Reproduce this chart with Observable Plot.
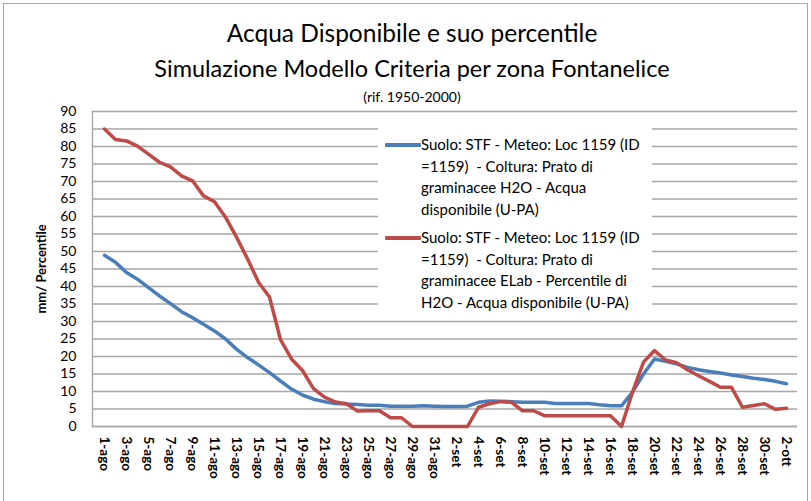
<!DOCTYPE html>
<html><head><meta charset="utf-8">
<script src="https://cdn.jsdelivr.net/npm/d3@7"></script>
<script src="https://cdn.jsdelivr.net/npm/@observablehq/plot@0.6"></script>
<style>
body{margin:0;background:#fff;font-family:Lato,"Open Sans",sans-serif;color:#000;}
#wrap{position:relative;width:811px;height:501px;overflow:hidden;background:#fff;}
#border{position:absolute;left:3px;top:3px;width:805px;height:520px;border:1.5px solid #a6a6a6;box-sizing:border-box;pointer-events:none;}
#head{position:relative;height:100px;}
.tl{position:absolute;left:0;width:824px;text-align:center;white-space:nowrap;}
#t1{top:18px;font-size:24.5px;line-height:30px;}
#t2{top:53px;font-size:23.5px;line-height:30px;}
#t3{top:89px;font-size:14px;line-height:16px;}
#legend{position:absolute;left:378px;top:121px;width:274px;height:195px;background:#fff;}
.entry{position:absolute;left:0;}
.swatch{position:absolute;left:7px;width:36px;height:4px;border-radius:1px;}
.ltxt{position:absolute;left:43px;font-size:15px;line-height:21.7px;white-space:pre;}
#chart svg text{fill:#000;}
</style>
</head><body>
<div id="wrap">
  <div id="head">
    <div class="tl" id="t1">Acqua Disponibile e suo percentile</div>
    <div class="tl" id="t2">Simulazione Modello Criteria per zona Fontanelice</div>
    <div class="tl" id="t3">(rif. 1950-2000)</div>
  </div>
  <div id="chart"></div>
  <div id="legend"></div>
  <div id="border"></div>
</div>
<script>
const days = ["1-ago","2-ago","3-ago","4-ago","5-ago","6-ago","7-ago","8-ago","9-ago","10-ago",
"11-ago","12-ago","13-ago","14-ago","15-ago","16-ago","17-ago","18-ago","19-ago","20-ago",
"21-ago","22-ago","23-ago","24-ago","25-ago","26-ago","27-ago","28-ago","29-ago","30-ago","31-ago",
"1-set","2-set","3-set","4-set","5-set","6-set","7-set","8-set","9-set","10-set",
"11-set","12-set","13-set","14-set","15-set","16-set","17-set","18-set","19-set","20-set",
"21-set","22-set","23-set","24-set","25-set","26-set","27-set","28-set","29-set","30-set",
"1-ott","2-ott"];
const xTickLabels = ["1-ago","3-ago","5-ago","7-ago","9-ago","11-ago","13-ago","15-ago","17-ago","19-ago",
"21-ago","23-ago","25-ago","27-ago","29-ago","31-ago","2-set","4-set","6-set","8-set","10-set",
"12-set","14-set","16-set","18-set","20-set","22-set","24-set","26-set","28-set","30-set","2-ott"];
const yTicks = [0,5,10,15,20,25,30,35,40,45,50,55,60,65,70,75,80,85,90];
const acquaDisponibile = [48.9,46.9,44,42.1,39.7,37.3,35.1,32.8,31.1,29.2,27.3,25,22.1,19.7,17.6,15.4,13,10.7,9,7.8,
7.1,6.6,6.4,6.3,6.1,6.1,5.8,5.8,5.8,5.9,5.8,5.7,5.7,5.8,6.9,7.3,7.2,7.1,6.9,6.9,
6.9,6.6,6.6,6.6,6.6,6.2,5.9,5.9,9.8,15,19.3,18.6,17.9,16.9,16.2,15.7,15.3,14.7,14.3,13.8,
13.4,12.9,12.2];
const percentile = [85,82,81.6,80.1,77.8,75.5,74.2,71.6,70.2,65.9,64.2,59.8,54.1,47.9,41.2,37,24.8,19.3,16,10.8,
8.4,7,6.5,4.4,4.5,4.5,2.5,2.5,0,0,0,0,0,0,5.5,6.5,7.1,6.9,4.5,4.5,
3.1,3.1,3.1,3.1,3.1,3.1,3.1,0,9.8,18.4,21.7,19,18.2,16.2,14.5,12.9,11.2,11.2,5.5,6,
6.5,4.9,5.2];
const seriesNames = [
  ["Suolo: STF - Meteo: Loc 1159 (ID","=1159)  - Coltura: Prato di","graminacee H2O - Acqua","disponibile (U-PA)"],
  ["Suolo: STF - Meteo: Loc 1159 (ID","=1159)  - Coltura: Prato di","graminacee ELab - Percentile di","H2O - Acqua disponibile (U-PA)"]
];
const colors = ["#4a7ebb","#be4b48"];

const chart = Plot.plot({
  width: 811, height: 401,
  marginLeft: 92, marginRight: 14, marginTop: 11, marginBottom: 75,
  style: {fontFamily: "Lato, 'Open Sans', sans-serif", fontSize: "13px", color: "#000", background: "transparent"},
  x: {type: "point", domain: days, padding: 0.5},
  y: {domain: [0, 90]},
  marks: [
    Plot.gridY(yTicks, {stroke: "#a6a6a6", strokeOpacity: 1, strokeWidth: 1.4}),
    Plot.frame({anchor: "left", stroke: "#a6a6a6", strokeWidth: 1.4}),
    Plot.ruleY([0], {stroke: "#a6a6a6", strokeWidth: 1.4}),
    Plot.axisY(yTicks, {tickSize: 0, tickPadding: 16, fontSize: 14, label: "mm/ Percentile", labelAnchor: "center", labelOffset: 56, labelArrow: false}),
    Plot.axisX(xTickLabels, {tickSize: 0, tickRotate: 90, tickPadding: 10, fontSize: 13.5, fontWeight: "bold", label: null}),
    Plot.line(acquaDisponibile, {x: (d, i) => days[i], y: d => d, stroke: colors[0], strokeWidth: 3.5, curve: "linear"}),
    Plot.line(percentile, {x: (d, i) => days[i], y: d => d, stroke: colors[1], strokeWidth: 3.5, curve: "linear"})
  ]
});
document.getElementById("chart").appendChild(chart);
const lab = chart.querySelector('[aria-label="y-axis label"]');
if (lab) { lab.setAttribute("font-weight", "bold"); lab.setAttribute("font-size", "13"); }

const legend = document.getElementById("legend");
const tops = [13, 106];
seriesNames.forEach((lines, k) => {
  const e = document.createElement("div");
  e.className = "entry";
  e.style.top = tops[k] + "px";
  const sw = document.createElement("div");
  sw.className = "swatch";
  sw.style.top = "9px";
  sw.style.background = colors[k];
  e.appendChild(sw);
  const t = document.createElement("div");
  t.className = "ltxt";
  t.style.top = "0px";
  t.textContent = lines.join("\n");
  e.appendChild(t);
  legend.appendChild(e);
});
</script>
</body></html>
